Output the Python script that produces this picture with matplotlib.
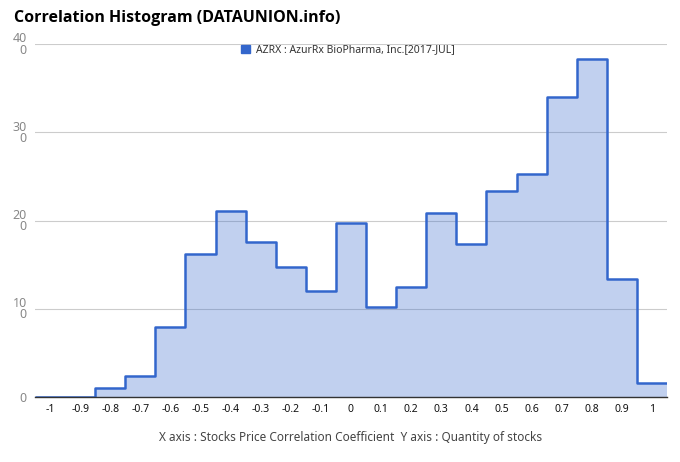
import matplotlib
matplotlib.use("Agg")
import matplotlib.pyplot as plt
import numpy as np
from matplotlib.patches import Patch

plt.rcParams['font.family'] = ['Noto Sans', 'DejaVu Sans']

centers = [-1.0, -0.9, -0.8, -0.7, -0.6, -0.5, -0.4, -0.3, -0.2, -0.1, 0.0,
           0.1, 0.2, 0.3, 0.4, 0.5, 0.6, 0.7, 0.8, 0.9, 1.0]
counts = [0, 0, 10, 24, 79, 162, 211, 176, 147, 120, 197,
          102, 125, 209, 173, 233, 253, 340, 383, 134, 16]
x_tick_labels = ["-1", "-0.9", "-0.8", "-0.7", "-0.6", "-0.5", "-0.4", "-0.3", "-0.2", "-0.1", "0",
                 "0.1", "0.2", "0.3", "0.4", "0.5", "0.6", "0.7", "0.8", "0.9", "1"]
y_ticks = [0, 100, 200, 300, 400]
y_tick_labels = ["0", "10\n0", "20\n0", "30\n0", "40\n0"]
series_name = "AZRX : AzurRx BioPharma, Inc.[2017-JUL]"
title = "Correlation Histogram (DATAUNION.info)"
xlabel = "X axis : Stocks Price Correlation Coefficient  Y axis : Quantity of stocks"

color = "#3366CC"

fig = plt.figure(figsize=(6.8, 4.62), dpi=100)
ax = fig.add_axes([35/680, 1-397/462, (667-35)/680, (397-44)/462])

c = np.array(centers)
edges = np.concatenate([c - 0.05, [c[-1] + 0.05]])
ax.stairs(counts, edges, fill=True, color=color, alpha=0.3, linewidth=0)
line = ax.stairs(counts, edges, baseline=None, color=color, linewidth=1.8)
line.set_joinstyle('round')

ax.set_xlim(edges[0], edges[-1])
ax.set_ylim(0, 400)
ax.set_xticks(centers)
ax.set_xticklabels(x_tick_labels, fontsize=7.5, color="#111111", fontweight='medium')
ax.set_yticks(y_ticks)
ax.set_yticklabels(y_tick_labels, fontsize=9, color="#888888", linespacing=0.8)
ax.tick_params(axis='both', length=0)
ax.tick_params(axis='x', pad=5)
ax.tick_params(axis='y', pad=6)
ax.grid(axis='y', color="#cccccc", linewidth=0.8)
ax.set_axisbelow(True)
for s in ['top', 'right', 'left']:
    ax.spines[s].set_visible(False)
ax.spines['bottom'].set_color("#333333")
ax.spines['bottom'].set_linewidth(1)

fig.text(14/680, 1-18/462, title, fontsize=11.5, fontweight='bold', va='center', ha='left',
         color="#000000", family=['Open Sans', 'DejaVu Sans'])
fig.text(351/680, 1-437/462, xlabel, fontsize=8.5, va='center', ha='center', color="#444444")

leg = fig.legend(handles=[Patch(facecolor=color, edgecolor=color)], labels=[series_name],
                 loc='center', bbox_to_anchor=(348/680, 1-50/462), frameon=False,
                 fontsize=7.5, handlelength=0.9, handleheight=0.9, handletextpad=0.6)
for t in leg.get_texts():
    t.set_color("#333333")

fig.savefig("out.png", dpi=100)
